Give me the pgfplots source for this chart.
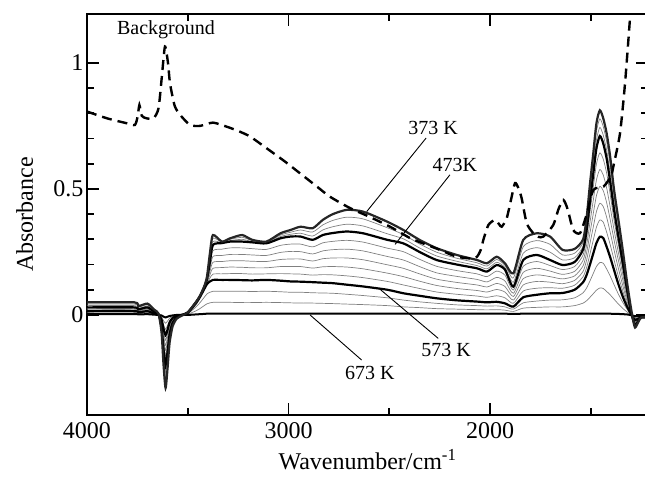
\documentclass[border=0pt]{standalone}
\usepackage{fontspec}
\setmainfont{Liberation Serif}
\usepackage{pgfplots}
\usepackage{pgfplotstable}
\pgfplotsset{compat=1.18}
\pgfplotstableread{
x A g1 g2 B k5 k4 k3 k2 k1 C g8 g9 D
4000 0.050 0.043 0.037 0.030 0.028 0.025 0.023 0.020 0.018 0.015 0.011 0.007 0.003
3765 0.050 0.043 0.037 0.030 0.028 0.025 0.023 0.020 0.018 0.015 0.011 0.007 0.003
3745 0.035 0.031 0.026 0.022 0.020 0.018 0.016 0.014 0.012 0.010 0.007 0.005 0.002
3700 0.045 0.040 0.035 0.030 0.028 0.025 0.023 0.020 0.018 0.015 0.011 0.007 0.003
3665 0.020 0.017 0.015 0.012 0.011 0.010 0.009 0.007 0.006 0.005 0.004 0.002 0.001
3645 0.005 0.004 0.004 0.003 0.003 0.003 0.002 0.002 0.002 0.001 0.001 0.001 0.000
3630 -0.070 -0.063 -0.056 -0.048 -0.043 -0.039 -0.034 -0.029 -0.024 -0.019 -0.014 -0.008 -0.002
3620 -0.200 -0.179 -0.159 -0.138 -0.124 -0.110 -0.097 -0.083 -0.069 -0.055 -0.039 -0.023 -0.007
3610 -0.290 -0.260 -0.230 -0.200 -0.180 -0.160 -0.140 -0.120 -0.100 -0.080 -0.057 -0.033 -0.010
3600 -0.210 -0.188 -0.167 -0.145 -0.130 -0.116 -0.101 -0.087 -0.072 -0.058 -0.041 -0.024 -0.007
3590 -0.110 -0.099 -0.087 -0.076 -0.068 -0.061 -0.053 -0.046 -0.038 -0.030 -0.022 -0.013 -0.004
3575 -0.045 -0.040 -0.036 -0.031 -0.028 -0.025 -0.022 -0.019 -0.016 -0.012 -0.009 -0.005 -0.002
3555 -0.015 -0.013 -0.012 -0.010 -0.009 -0.008 -0.007 -0.006 -0.005 -0.004 -0.003 -0.002 0.000
3530 -0.003 0.000 0.000 0.000 0.000 0.000 0.000 0.000 0.000 0.000 0.000 0.000 0.000
3500 0.010 0.010 0.010 0.010 0.010 0.009 0.009 0.009 0.008 0.008 0.005 0.003 0.000
3460 0.050 0.050 0.050 0.050 0.049 0.048 0.048 0.047 0.046 0.045 0.031 0.016 0.002
3440 0.075 0.075 0.074 0.074 0.073 0.073 0.072 0.071 0.071 0.070 0.048 0.025 0.003
3420 0.110 0.109 0.108 0.107 0.106 0.105 0.104 0.102 0.101 0.100 0.068 0.036 0.004
3405 0.150 0.147 0.143 0.140 0.137 0.134 0.131 0.128 0.125 0.122 0.083 0.044 0.005
3390 0.245 0.233 0.222 0.210 0.197 0.184 0.172 0.159 0.146 0.133 0.090 0.048 0.005
3375 0.317 0.304 0.291 0.278 0.255 0.232 0.209 0.185 0.162 0.139 0.094 0.050 0.005
3330 0.291 0.289 0.287 0.285 0.261 0.236 0.212 0.188 0.163 0.139 0.094 0.050 0.005
3290 0.304 0.300 0.295 0.291 0.266 0.240 0.215 0.190 0.164 0.139 0.094 0.050 0.005
3230 0.317 0.308 0.300 0.291 0.266 0.240 0.215 0.189 0.164 0.138 0.094 0.049 0.005
3180 0.298 0.295 0.291 0.288 0.263 0.238 0.213 0.187 0.162 0.137 0.093 0.049 0.005
3110 0.291 0.289 0.286 0.284 0.260 0.236 0.212 0.187 0.163 0.139 0.094 0.050 0.005
3040 0.324 0.317 0.311 0.304 0.276 0.248 0.220 0.192 0.164 0.136 0.092 0.049 0.005
2990 0.337 0.328 0.320 0.311 0.281 0.252 0.222 0.192 0.163 0.133 0.090 0.048 0.005
2940 0.350 0.337 0.324 0.311 0.281 0.251 0.222 0.192 0.162 0.132 0.090 0.047 0.005
2880 0.344 0.329 0.313 0.298 0.270 0.242 0.214 0.186 0.158 0.130 0.088 0.047 0.005
2830 0.377 0.357 0.337 0.317 0.286 0.254 0.223 0.191 0.160 0.128 0.087 0.046 0.005
2780 0.400 0.375 0.350 0.325 0.292 0.259 0.226 0.192 0.159 0.126 0.086 0.045 0.005
2710 0.417 0.388 0.360 0.331 0.296 0.261 0.226 0.190 0.155 0.120 0.082 0.043 0.005
2630 0.410 0.381 0.353 0.324 0.289 0.254 0.219 0.183 0.148 0.113 0.077 0.041 0.005
2510 0.370 0.346 0.322 0.298 0.265 0.232 0.199 0.166 0.133 0.100 0.068 0.037 0.005
2430 0.337 0.319 0.302 0.284 0.251 0.218 0.185 0.152 0.119 0.086 0.059 0.032 0.005
2350 0.298 0.282 0.266 0.250 0.221 0.192 0.163 0.134 0.105 0.076 0.052 0.029 0.005
2265 0.265 0.249 0.234 0.218 0.193 0.167 0.142 0.117 0.091 0.066 0.046 0.025 0.005
2165 0.238 0.225 0.213 0.200 0.176 0.153 0.129 0.105 0.082 0.058 0.040 0.023 0.005
2065 0.218 0.207 0.196 0.185 0.163 0.141 0.119 0.097 0.075 0.053 0.037 0.021 0.005
2015 0.205 0.194 0.183 0.172 0.152 0.131 0.111 0.091 0.070 0.050 0.035 0.020 0.005
1967 0.231 0.220 0.209 0.198 0.174 0.149 0.125 0.101 0.076 0.052 0.036 0.021 0.005
1926 0.205 0.197 0.188 0.180 0.158 0.135 0.113 0.091 0.068 0.046 0.032 0.019 0.005
1884 0.165 0.147 0.130 0.112 0.099 0.086 0.073 0.059 0.046 0.033 0.023 0.014 0.004
1835 0.298 0.271 0.245 0.218 0.193 0.169 0.144 0.119 0.095 0.070 0.048 0.027 0.005
1768 0.324 0.295 0.267 0.238 0.212 0.185 0.159 0.133 0.106 0.080 0.055 0.030 0.005
1702 0.311 0.280 0.249 0.218 0.196 0.174 0.152 0.130 0.108 0.086 0.059 0.032 0.005
1640 0.258 0.238 0.218 0.198 0.180 0.161 0.143 0.124 0.106 0.087 0.060 0.032 0.005
1580 0.262 0.245 0.227 0.210 0.192 0.173 0.155 0.137 0.118 0.100 0.068 0.037 0.005
1538 0.300 0.287 0.273 0.260 0.238 0.217 0.195 0.173 0.152 0.130 0.088 0.047 0.005
1520 0.390 0.373 0.357 0.340 0.310 0.280 0.250 0.220 0.190 0.160 0.108 0.057 0.005
1504 0.520 0.497 0.473 0.450 0.408 0.367 0.325 0.283 0.242 0.200 0.135 0.070 0.005
1489 0.630 0.603 0.577 0.550 0.498 0.447 0.395 0.343 0.292 0.240 0.162 0.083 0.005
1472 0.760 0.727 0.693 0.660 0.598 0.535 0.473 0.410 0.348 0.285 0.192 0.098 0.005
1455 0.812 0.778 0.744 0.710 0.643 0.577 0.510 0.443 0.377 0.310 0.208 0.107 0.005
1438 0.780 0.747 0.713 0.680 0.618 0.555 0.493 0.430 0.368 0.305 0.205 0.105 0.005
1421 0.720 0.687 0.653 0.620 0.562 0.503 0.445 0.387 0.328 0.270 0.182 0.093 0.005
1404 0.630 0.597 0.563 0.530 0.480 0.430 0.380 0.330 0.280 0.230 0.155 0.080 0.005
1385 0.500 0.473 0.447 0.420 0.380 0.340 0.300 0.260 0.220 0.180 0.121 0.063 0.004
1365 0.390 0.367 0.343 0.320 0.288 0.256 0.224 0.191 0.159 0.127 0.086 0.045 0.004
1340 0.250 0.233 0.217 0.200 0.178 0.157 0.135 0.113 0.092 0.070 0.048 0.025 0.003
1320 0.130 0.120 0.110 0.100 0.089 0.078 0.067 0.055 0.044 0.033 0.023 0.012 0.002
1305 0.050 0.043 0.037 0.030 0.027 0.023 0.020 0.017 0.013 0.010 0.007 0.003 0.000
1290 -0.020 -0.020 -0.020 -0.020 -0.018 -0.017 -0.015 -0.013 -0.012 -0.010 -0.008 -0.005 -0.003
1280 -0.050 -0.047 -0.043 -0.040 -0.037 -0.033 -0.030 -0.027 -0.023 -0.020 -0.015 -0.010 -0.005
1265 -0.030 -0.028 -0.027 -0.025 -0.023 -0.022 -0.020 -0.018 -0.017 -0.015 -0.011 -0.008 -0.004
1250 -0.010 -0.010 -0.010 -0.010 -0.010 -0.010 -0.010 -0.010 -0.010 -0.010 -0.008 -0.005 -0.003
1215 -0.010 -0.010 -0.010 -0.010 -0.010 -0.009 -0.009 -0.009 -0.008 -0.008 -0.006 -0.005 -0.003
}\spectra
\pgfplotstableread{
x y
4000 0.807
3900 0.780
3800 0.760
3762 0.754
3748 0.790
3740 0.833
3728 0.790
3704 0.780
3670 0.780
3645 0.820
3628 0.950
3613 1.065
3598 1.000
3588 0.919
3565 0.830
3538 0.794
3489 0.754
3439 0.750
3375 0.763
3307 0.747
3250 0.730
3191 0.708
3108 0.661
3020 0.610
2943 0.562
2860 0.510
2794 0.469
2695 0.424
2600 0.390
2496 0.350
2397 0.305
2320 0.280
2248 0.258
2165 0.231
2074 0.225
2045 0.260
2033 0.298
2008 0.357
1975 0.377
1955 0.360
1942 0.350
1917 0.384
1895 0.460
1876 0.523
1860 0.505
1843 0.463
1818 0.364
1785 0.324
1760 0.310
1735 0.311
1686 0.357
1660 0.420
1636 0.456
1615 0.420
1587 0.337
1553 0.325
1520 0.400
1487 0.496
1437 0.509
1400 0.550
1388 0.589
1355 0.720
1330 0.919
1305 1.180
1298 1.260
}\background
\begin{document}
\begin{tikzpicture}
\begin{axis}[
  scale only axis, width=561bp, height=401bp,
  x dir=reverse, xmin=1216, xmax=4000, ymin=-0.397, ymax=1.194,
  xtick={2000,3000,4000}, minor xtick={1500,2500,3500},
  ytick={0,0.5,1}, minor y tick num=4,
  xtick pos=both, ytick pos=both,
  xticklabel pos=lower, yticklabel pos=left,
  tick align=inside,
  major tick length=12bp, minor tick length=7bp,
  every tick/.style={line width=1.8bp, black},
  axis line style={line width=2.2bp},
  /pgf/number format/assume math mode=true,
  /pgf/number format/1000 sep={},
  scaled ticks=false,
  ticklabel style={font=\fontsize{24bp}{28bp}\selectfont},
  x tick label style={yshift=-4bp},
  label style={font=\fontsize{24bp}{28bp}\selectfont},
  xlabel={Wavenumber/cm\textsuperscript{-1}},
  ylabel={Absorbance},
  xlabel style={at={(axis description cs:0.5,-0.137)}, anchor=base},
  ylabel style={at={(axis description cs:-0.0963,0.5)}, anchor=base},
]
\pgfplotsinvokeforeach{g1,g2,k5,k4,k3,k2,k1,g8,g9}{
  \addplot[gray, line width=0.7bp, smooth, tension=0.4] table[x=x, y=#1]{\spectra};
}
\addplot[black, line width=2bp, smooth, tension=0.4] table[x=x, y=D]{\spectra};
\addplot[black, line width=2.2bp, smooth, tension=0.4] table[x=x, y=C]{\spectra};
\addplot[black, line width=2.2bp, smooth, tension=0.4] table[x=x, y=B]{\spectra};
\addplot[black!85, line width=2.2bp, smooth, tension=0.4] table[x=x, y=A]{\spectra};
\addplot[black, line width=2.4bp, dash pattern=on 10bp off 6bp, smooth, tension=0.4] table[x=x, y=y]{\background};
\pgfplotsinvokeforeach{2000,3000}{
  \draw[line width=1.8bp] (axis cs:#1,-0.397) -- (axis cs:#1,-0.349);
  \draw[line width=1.8bp] (axis cs:#1,1.194) -- (axis cs:#1,1.146);
}
\pgfplotsinvokeforeach{1500,2500,3500}{
  \draw[line width=1.8bp] (axis cs:#1,-0.397) -- (axis cs:#1,-0.369);
  \draw[line width=1.8bp] (axis cs:#1,1.194) -- (axis cs:#1,1.166);
}
\node[font=\fontsize{20bp}{24bp}\selectfont] at (axis cs:3608,1.131) {Background};
\draw[line width=0.9bp] (axis cs:2317,0.702) -- (axis cs:2612,0.41);
\node[font=\fontsize{20bp}{24bp}\selectfont] at (axis cs:2283,0.742) {373 K};
\draw[line width=0.9bp] (axis cs:2199,0.556) -- (axis cs:2471,0.28);
\node[font=\fontsize{20bp}{24bp}\selectfont] at (axis cs:2174,0.595) {473K};
\draw[line width=0.9bp] (axis cs:2257,-0.093) -- (axis cs:2546,0.102);
\node[font=\fontsize{20bp}{24bp}\selectfont] at (axis cs:2218,-0.139) {573 K};
\draw[line width=0.9bp] (axis cs:2637,-0.179) -- (axis cs:2893,0.0);
\node[font=\fontsize{20bp}{24bp}\selectfont] at (axis cs:2596,-0.231) {673 K};
\end{axis}
\pgfresetboundingbox
\useasboundingbox (-87bp,-66bp) rectangle (558bp,415bp);
\end{tikzpicture}
\end{document}
